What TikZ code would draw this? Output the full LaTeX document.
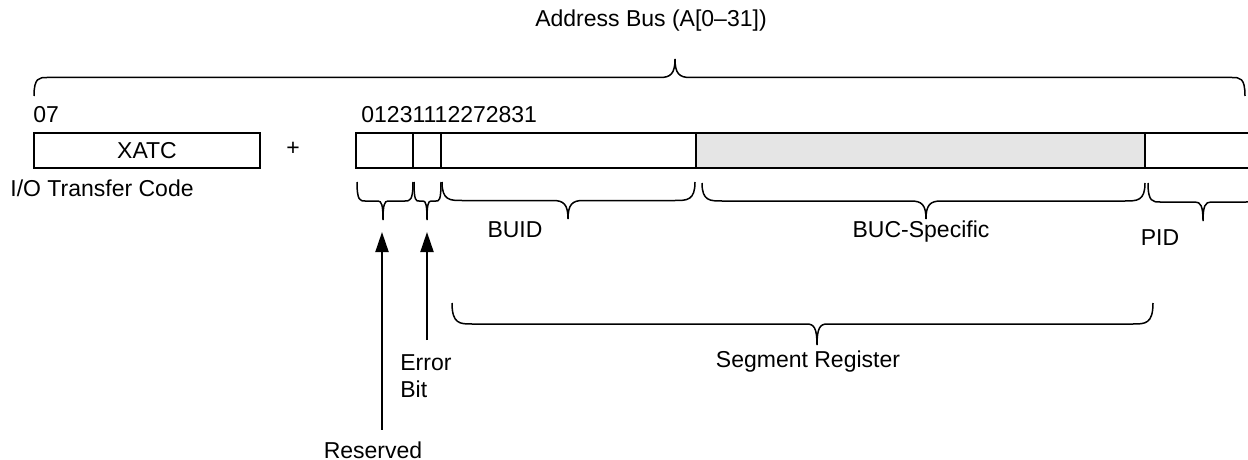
\documentclass[tikz,border=0pt]{standalone}
\usepackage{fontspec}
\setmainfont{Liberation Sans}
\usetikzlibrary{arrows.meta, positioning}
\tikzset{
  field/.style={draw, line width=1pt, minimum height=17.5pt, inner sep=0pt, outer sep=0pt},
  bracepen/.style={line width=0.75pt},
  ptr/.style={-{Triangle[length=10pt,width=6.5pt]}, line width=1pt},
  lbl/.style={inner sep=0pt}
}
% brace from x #1 to x #2 at height #3, tip at x #4, depth #5, curl #6, tip half width #7
\newcommand{\hbrace}[7]{%
  \draw[bracepen] (#1,#3)
    .. controls (#1,{#3+0.5*#5}) and ({#1+0.4*#6},{#3+0.5*#5}) .. ({#1+#6},{#3+0.5*#5})
    -- ({#4-#7},{#3+0.5*#5})
    .. controls ({#4-0.3*#7},{#3+0.5*#5}) and (#4,{#3+0.6*#5}) .. (#4,{#3+#5})
    .. controls (#4,{#3+0.6*#5}) and ({#4+0.3*#7},{#3+0.5*#5}) .. ({#4+#7},{#3+0.5*#5})
    -- ({#2-#6},{#3+0.5*#5})
    .. controls ({#2-0.4*#6},{#3+0.5*#5}) and (#2,{#3+0.5*#5}) .. (#2,#3);
}

\begin{document}
\begin{tikzpicture}[x=0.5pt, y=-0.5pt, font=\fontsize{11.5}{13.5}\selectfont]
\useasboundingbox (0,0) rectangle (1248,460);
\node[lbl] (bus) at (651,21) {Address Bus (A[0--31])};
\hbrace{34}{1245}{96}{675}{-37}{13}{15}
% transfer code
\node[field, minimum width=113pt, anchor=north west] (xatc) at (34,133) {XATC};
\node[lbl, anchor=base west] (xbits) at (33,123) {07};
\node[lbl, anchor=base west] (xname) at (10,197) {I/O Transfer Code};
\node[lbl] (plus) at (293,149) {+};
% address register
\node[field, minimum width=28.5pt, anchor=north west] (rsvf) at (356,133) {};
\node[field, minimum width=14pt, right=0pt of rsvf] (errf) {};
\node[field, minimum width=127.5pt, right=0pt of errf] (buidf) {};
\node[field, fill=gray!20, minimum width=224.5pt, right=0pt of buidf] (bucf) {};
\node[field, draw=none, minimum width=56.5pt, right=0pt of bucf] (pidf) {};
\draw[line width=1pt] (pidf.north west) -- (pidf.north east) (pidf.south west) -- (pidf.south east);
\node[lbl, anchor=base west] (abits) at (361,123) {01231112272831};
% field braces
\hbrace{357}{413}{182}{383}{38}{8}{5}
\hbrace{414}{441}{182}{427}{38}{5}{4}
\hbrace{442}{695}{182}{568}{37}{20}{15}
\hbrace{702}{1145}{183}{926}{36}{20}{15}
\hbrace{1148}{1258}{183}{1203}{38}{12}{8}
\node[lbl] (buid) at (515,230) {BUID};
\node[lbl] (buc) at (921,232) {BUC-Specific};
\node[lbl] (pid) at (1160,238) {PID};
% segment register
\hbrace{452}{1153}{303}{817}{42}{20}{10}
\node[lbl] (seg) at (808,362) {Segment Register};
% pointers
\coordinate (rsvtip) at (382,232);
\coordinate (errtip) at (427,232);
\node[lbl, anchor=base] (rsv) at (373,458) {Reserved};
\node[lbl, anchor=north west, align=left] (err) at (400,354) {Error\\Bit};
\draw[ptr] (rsv.north -| rsvtip) ++(0,-11) -- (rsvtip);
\draw[ptr] (err.north -| errtip) ++(0,-14) -- (errtip);
\end{tikzpicture}
\end{document}
